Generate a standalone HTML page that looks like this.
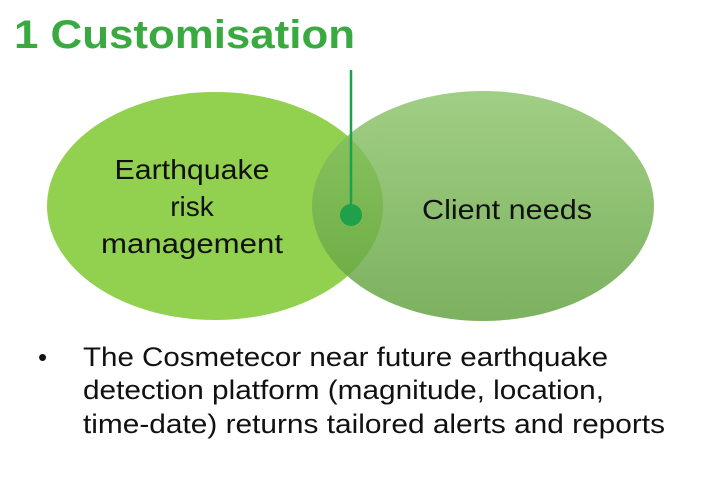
<!DOCTYPE html>
<html><head><meta charset="utf-8"><style>
html,body{margin:0;padding:0;background:#fff;width:720px;height:480px;overflow:hidden}
svg{display:block}
text{font-family:"Liberation Sans",sans-serif}
</style></head><body>
<svg width="720" height="480" viewBox="0 0 720 480">
<defs>
<linearGradient id="rg" x1="0" y1="0" x2="0" y2="1">
<stop offset="0" stop-color="#8cc46a"/><stop offset="1" stop-color="#5fa03c"/>
</linearGradient>
</defs>
<text x="14" y="48" font-size="40" font-weight="bold" fill="#3aaa40" textLength="341" lengthAdjust="spacingAndGlyphs">1 Customisation</text>
<ellipse cx="215" cy="206" rx="168" ry="114" fill="#92d050"/>
<ellipse cx="483" cy="206" rx="171" ry="115" fill="url(#rg)" opacity="0.82"/>
<line x1="351" y1="70" x2="351" y2="215" stroke="#1fa04a" stroke-width="2.5"/>
<circle cx="351" cy="215" r="11" fill="#1fa04a"/>
<g font-size="28" fill="#111" text-anchor="middle">
<text x="192" y="179" textLength="155" lengthAdjust="spacingAndGlyphs">Earthquake</text>
<text x="192" y="216">risk</text>
<text x="192" y="253" textLength="182" lengthAdjust="spacingAndGlyphs">management</text>
</g>
<text x="507" y="219" font-size="28" fill="#111" text-anchor="middle" textLength="170" lengthAdjust="spacingAndGlyphs">Client needs</text>
<text x="38" y="366" font-size="26" fill="#111">•</text>
<g font-size="27" fill="#111">
<text x="83" y="366" textLength="525" lengthAdjust="spacingAndGlyphs">The Cosmetecor near future  earthquake</text>
<text x="83" y="399" textLength="521" lengthAdjust="spacingAndGlyphs">detection platform (magnitude, location,</text>
<text x="83" y="433" textLength="582" lengthAdjust="spacingAndGlyphs">time-date) returns tailored alerts and reports</text>
</g>
</svg>
</body></html>
